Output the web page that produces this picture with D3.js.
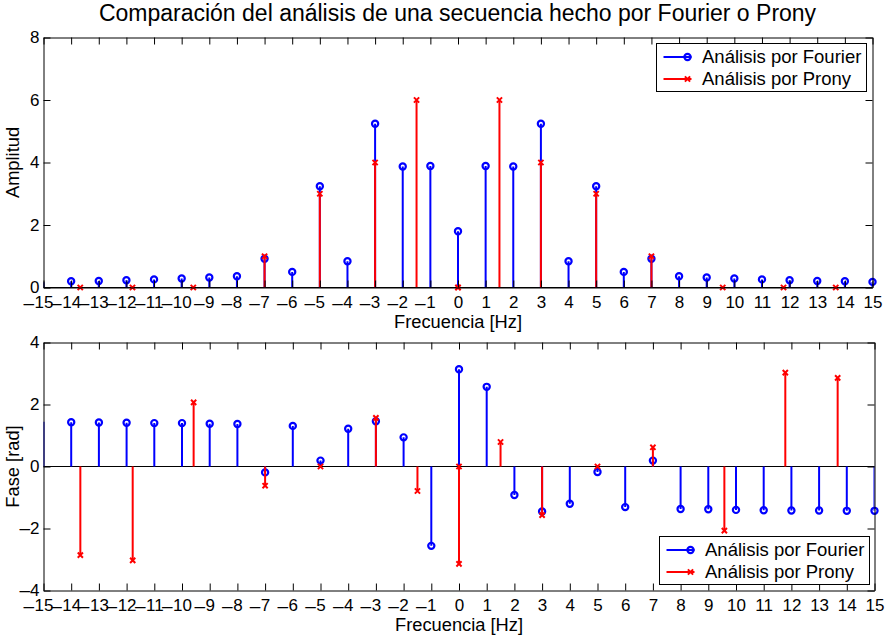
<!DOCTYPE html>
<html>
<head>
<meta charset="utf-8">
<script src="https://cdn.jsdelivr.net/npm/d3@7"></script>
<style>
  body { margin: 0; background: #fff; }
  svg { display: block; }
  text { font-family: "Liberation Sans", Arial, Helvetica, sans-serif; fill: #000; }
</style>
</head>
<body>
<svg id="chart" width="889" height="640"></svg>
<script>
// ---- data -------------------------------------------------------------
// Fourier (DFT) bins
const fourierFreq = [-15, -14, -13, -12, -11, -10, -9, -8, -7, -6, -5, -4, -3, -2, -1,
                     0, 1, 2, 3, 4, 5, 6, 7, 8, 9, 10, 11, 12, 13, 14, 15];
const fourierAmp = [0.17, 0.20, 0.21, 0.23, 0.26, 0.29, 0.32, 0.36, 0.92, 0.50, 3.24, 0.84, 5.24, 3.87, 3.89,
                    1.80, 3.89, 3.87, 5.24, 0.84, 3.24, 0.50, 0.92, 0.36, 0.32, 0.29, 0.26, 0.23, 0.21, 0.20, 0.18];
const fourierPhase = [1.44, 1.43, 1.42, 1.41, 1.40, 1.40, 1.38, 1.37, -0.19, 1.31, 0.19, 1.22, 1.46, 0.94, -2.56,
                      3.14, 2.57, -0.92, -1.45, -1.20, -0.18, -1.31, 0.19, -1.37, -1.38, -1.40, -1.41, -1.42, -1.42, -1.43, -1.43];

// Prony components
const pronyFreq  = [-13.67, -11.78, -9.58, -7, -5, -3, -1.5, 0, 0, 1.5, 3, 5, 7, 9.58, 11.78, 13.67];
const pronyAmp   = [0, 0, 0, 1, 3, 4, 6, 0, 0, 6, 4, 3, 1, 0, 0, 0];
const pronyPhase = [-2.86, -3.03, 2.07, -0.62, 0, 1.57, -0.79, 0, -3.14, 0.79, -1.57, 0, 0.62, -2.07, 3.03, 2.86];

// axis ticks
const freqTicks  = [-15, -14, -13, -12, -11, -10, -9, -8, -7, -6, -5, -4, -3, -2, -1,
                    0, 1, 2, 3, 4, 5, 6, 7, 8, 9, 10, 11, 12, 13, 14, 15];
const ampTicks   = [0, 2, 4, 6, 8];
const phaseTicks = [-4, -2, 0, 2, 4];

const titleText   = "Comparación del análisis de una secuencia hecho por Fourier o Prony";
const xLabelText  = "Frecuencia [Hz]";
const legendNames = ["Análisis por Fourier", "Análisis por Prony"];

// ---- drawing ----------------------------------------------------------
const BLUE = "#0000ff", RED = "#ff0000";
const TICK_FS = 17, MINUS_FS = 19, LABEL_FS = 18.3, LEGEND_FS = 18.5, TITLE_FS = 23;
const MINUS = "\u2013";
const svg = d3.select("#chart");
svg.append("rect").attr("width", 889).attr("height", 640).attr("fill", "#fff");

function zipSeries(xs, ys) { return xs.map((f, i) => ({ f, v: ys[i] })); }

// x tick labels: digits centred on the tick, the minus sign hanging to the left
function xTickLabels(axisG) {
  axisG.selectAll(".tick").each(function (d) {
    const t = d3.select(this).select("text").style("font-size", TICK_FS + "px").text(Math.abs(d));
    if (d < 0) {
      const w = t.node().getComputedTextLength();
      d3.select(this).append("text")
        .attr("x", -w / 2 - 0.5).attr("y", t.attr("y")).attr("dy", t.attr("dy"))
        .attr("text-anchor", "end").attr("fill", "#000")
        .style("font-size", MINUS_FS + "px").text(MINUS);
    }
  });
}
// y tick labels: right-aligned, minus drawn as a wider dash
function yTickLabels(axisG) {
  axisG.selectAll(".tick text").each(function (d) {
    const t = d3.select(this).text(null).style("font-size", TICK_FS + "px");
    if (d < 0) t.append("tspan").style("font-size", MINUS_FS + "px").text(MINUS);
    t.append("tspan").text(Math.abs(d));
  });
}

function drawPanel(cfg) {
  const { box, yDomain, yTicks, yLabel, fourier, prony, legendAt, id } = cfg;
  const x = d3.scaleLinear().domain([-15, 15]).range([box.left, box.right]);
  const y = d3.scaleLinear().domain(yDomain).range([box.bottom, box.top]);
  const g = svg.append("g");

  g.append("clipPath").attr("id", "clip-" + id)
    .append("rect")
    .attr("x", box.left).attr("y", box.top)
    .attr("width", box.right - box.left).attr("height", box.bottom - box.top);

  // stem baseline
  g.append("line")
    .attr("x1", box.left).attr("x2", box.right)
    .attr("y1", y(0)).attr("y2", y(0))
    .attr("stroke", "#000").attr("stroke-width", 1);

  function stems(data, color) {
    g.append("g").attr("clip-path", `url(#clip-${id})`)
      .selectAll("line").data(data).join("line")
      .attr("x1", d => x(d.f)).attr("x2", d => x(d.f))
      .attr("y1", y(0)).attr("y2", d => y(d.v))
      .attr("stroke", color).attr("stroke-width", 2);
  }
  function circles(data) {
    // a bin sitting on the left limit only shows its clipped stem
    g.append("g").selectAll("circle").data(data.filter(d => d.f > x.domain()[0])).join("circle")
      .attr("cx", d => x(d.f)).attr("cy", d => y(d.v)).attr("r", 3.1)
      .attr("fill", "none").attr("stroke", BLUE).attr("stroke-width", 2.2);
  }
  function crosses(data) {
    const s = 2.6;
    g.append("g").selectAll("path").data(data).join("path")
      .attr("d", d => {
        const cx = x(d.f), cy = y(d.v);
        return `M${cx - s},${cy - s}L${cx + s},${cy + s}M${cx - s},${cy + s}L${cx + s},${cy - s}`;
      })
      .attr("stroke", RED).attr("stroke-width", 2).attr("fill", "none");
  }

  stems(fourier, BLUE);
  circles(fourier);
  stems(prony, RED);
  crosses(prony);

  // axes box with inward ticks
  const styleAxis = sel => {
    sel.attr("font-family", null).attr("font-size", null);
    sel.selectAll(".domain").attr("stroke", "#000").attr("stroke-width", 1);
    sel.selectAll(".tick line").attr("stroke", "#000").attr("stroke-width", 1);
  };
  g.append("g").attr("transform", `translate(0,${box.bottom})`)
    .call(d3.axisBottom(x).tickValues(freqTicks).tickSize(-7).tickSizeOuter(0).tickPadding(8.3))
    .call(styleAxis).call(xTickLabels);
  g.append("g").attr("transform", `translate(0,${box.top})`)
    .call(d3.axisTop(x).tickValues(freqTicks).tickFormat("").tickSize(-7).tickSizeOuter(0))
    .call(styleAxis);
  g.append("g").attr("transform", `translate(${box.left},0)`)
    .call(d3.axisLeft(y).tickValues(yTicks).tickSize(-7).tickSizeOuter(0).tickPadding(4))
    .call(styleAxis).call(yTickLabels);
  g.append("g").attr("transform", `translate(${box.right},0)`)
    .call(d3.axisRight(y).tickValues(yTicks).tickFormat("").tickSize(-7).tickSizeOuter(0))
    .call(styleAxis);

  // axis labels
  g.append("text")
    .attr("x", (box.left + box.right) / 2).attr("y", box.bottom + 40)
    .attr("text-anchor", "middle").style("font-size", LABEL_FS + "px")
    .text(xLabelText);
  g.append("text")
    .attr("transform", `translate(19,${(box.top + box.bottom) / 2}) rotate(-90)`)
    .attr("text-anchor", "middle").style("font-size", LABEL_FS + "px")
    .text(yLabel);

  // legend
  const lg = g.append("g").attr("transform", `translate(${legendAt[0]},${legendAt[1]})`);
  lg.append("rect").attr("width", 210).attr("height", 48)
    .attr("fill", "#fff").attr("stroke", "#000").attr("stroke-width", 1);
  legendNames.forEach((name, i) => {
    const cy = 13.5 + i * 22;
    const color = i === 0 ? BLUE : RED;
    lg.append("line").attr("x1", 7).attr("x2", 35).attr("y1", cy).attr("y2", cy)
      .attr("stroke", color).attr("stroke-width", 2);
    if (i === 0) {
      lg.append("circle").attr("cx", 31).attr("cy", cy).attr("r", 3.1)
        .attr("fill", "none").attr("stroke", BLUE).attr("stroke-width", 2.2);
    } else {
      const s = 2.6;
      lg.append("path")
        .attr("d", `M${31 - s},${cy - s}L${31 + s},${cy + s}M${31 - s},${cy + s}L${31 + s},${cy - s}`)
        .attr("stroke", RED).attr("stroke-width", 2);
    }
    lg.append("text").attr("x", 45.5).attr("y", cy).attr("dy", "0.35em")
      .style("font-size", LEGEND_FS + "px").text(name);
  });
}

// title
svg.append("text")
  .attr("x", 457.5).attr("y", 21)
  .attr("text-anchor", "middle").style("font-size", TITLE_FS + "px")
  .text(titleText);

drawPanel({
  id: "amp",
  box: { left: 43.5, right: 872.5, top: 37.5, bottom: 287.5 },
  yDomain: [0, 8], yTicks: ampTicks, yLabel: "Amplitud",
  fourier: zipSeries(fourierFreq, fourierAmp),
  prony: zipSeries(pronyFreq, pronyAmp),
  legendAt: [656.5, 43.5]
});

drawPanel({
  id: "phase",
  box: { left: 43.5, right: 874.5, top: 342.5, bottom: 590.5 },
  yDomain: [-4, 4], yTicks: phaseTicks, yLabel: "Fase [rad]",
  fourier: zipSeries(fourierFreq, fourierPhase),
  prony: zipSeries(pronyFreq, pronyPhase),
  legendAt: [659.5, 536.5]
});
</script>
</body>
</html>
